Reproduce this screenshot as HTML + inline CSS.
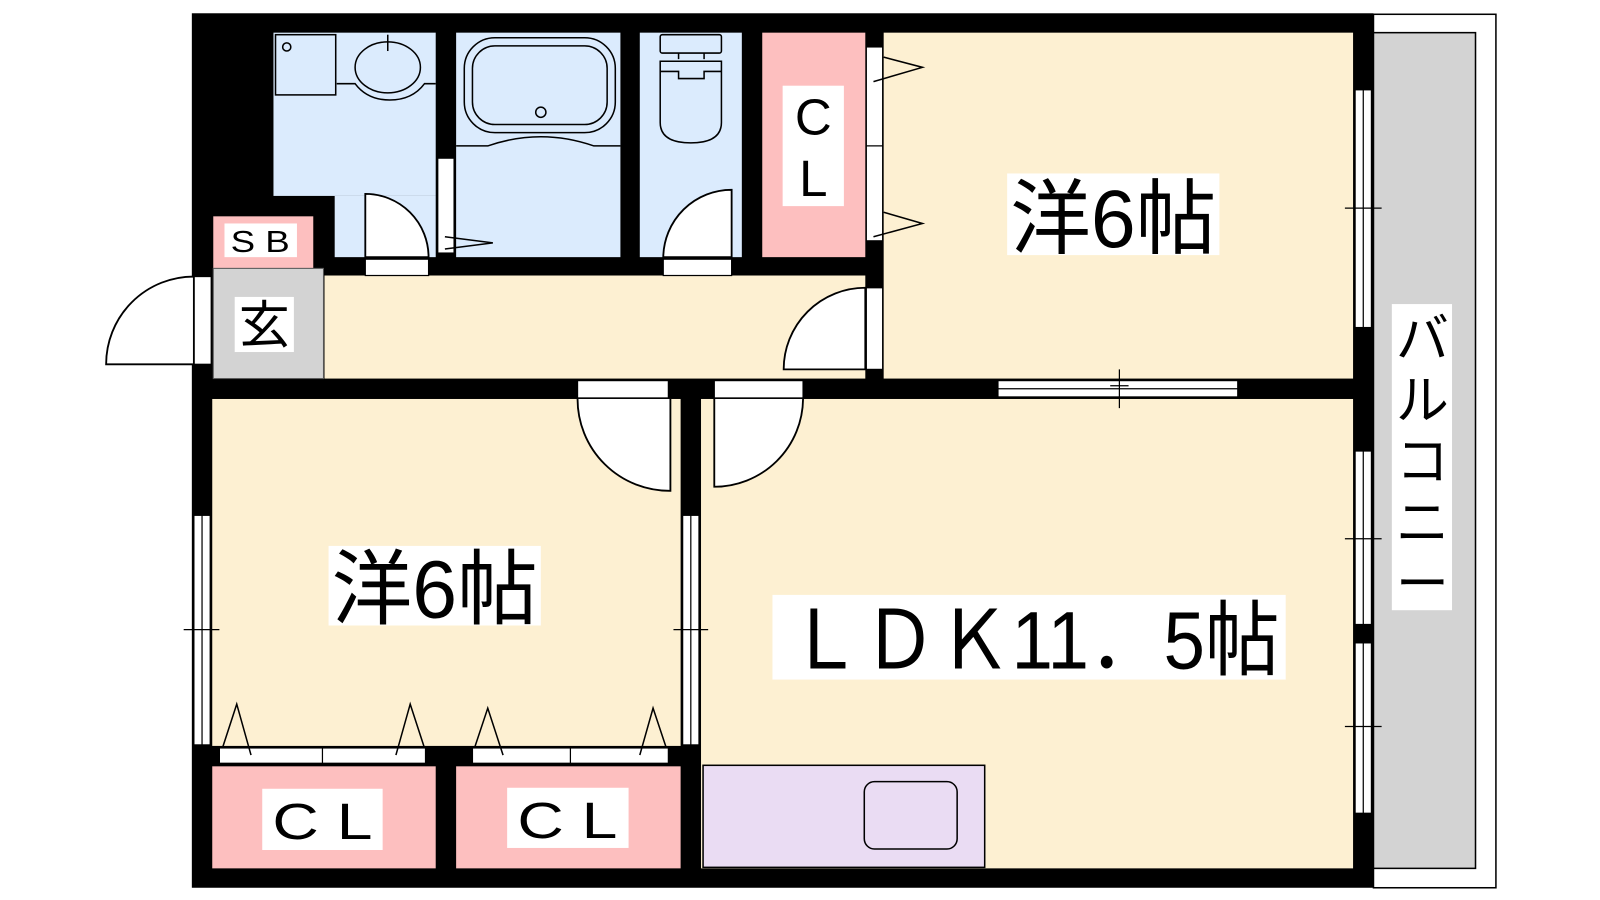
<!DOCTYPE html>
<html><head><meta charset="utf-8"><style>
html,body{margin:0;padding:0;background:#fff;width:1600px;height:900px;overflow:hidden}
svg{display:block}
text{font-family:"Liberation Sans","Noto Sans CJK JP",sans-serif;fill:#000}
</style></head><body>
<svg width="1600" height="900" viewBox="0 0 1568 882" preserveAspectRatio="none" xmlns="http://www.w3.org/2000/svg">
<!-- balcony -->
<rect x="1346" y="14" width="120" height="856" fill="#fff" stroke="#000" stroke-width="1.5"/>
<rect x="1346" y="32" width="100" height="819" fill="#d3d3d3" stroke="#000" stroke-width="1.5"/>
<!-- outer black -->
<rect x="188" y="13" width="1158" height="857" fill="#000"/>
<!-- rooms -->
<rect x="268" y="32" width="159" height="160" fill="#dbebfd"/>
<rect x="328" y="192" width="99" height="60" fill="#dbebfd"/>
<rect x="447" y="32" width="161" height="220" fill="#dbebfd"/>
<rect x="627" y="32" width="100" height="220" fill="#dbebfd"/>
<rect x="747" y="32" width="101" height="220" fill="#fdbfbf"/>
<rect x="866" y="32" width="460" height="339" fill="#fdf0d2"/>
<rect x="209" y="212" width="98" height="51" fill="#fdbfbf"/>
<rect x="209" y="263" width="108" height="108" fill="#d3d3d3" stroke="#555" stroke-width="1"/>
<rect x="318" y="270" width="530" height="101" fill="#fdf0d2"/>
<rect x="208" y="391" width="459" height="340" fill="#fdf0d2"/>
<rect x="687" y="391" width="639" height="460" fill="#fdf0d2"/>
<rect x="208" y="751" width="219" height="100" fill="#fdbfbf"/>
<rect x="447" y="751" width="220" height="100" fill="#fdbfbf"/>
<rect x="689" y="750" width="276" height="100" fill="#eadcf3" stroke="#000" stroke-width="1.5"/>
<rect x="847" y="766" width="91" height="66" rx="10" fill="none" stroke="#000" stroke-width="1.5"/>
<!-- fixtures -->
<g fill="none" stroke="#000" stroke-width="1.5">
<rect x="270" y="34" width="59" height="59"/>
<circle cx="281" cy="46" r="4"/>
<path d="M330 82 H348 Q360 98 382 98 Q404 98 416 82 H427"/>
<ellipse cx="380" cy="66" rx="32" ry="25"/>
<path d="M380 34 V50"/>
<rect x="455" y="37" width="148" height="93" rx="30"/>
<rect x="463" y="45" width="132" height="77" rx="22"/>
<circle cx="530" cy="110" r="5"/>
<path d="M447 143 H478 Q530 125 582 143 H608"/>
<rect x="647" y="34" width="60" height="18" rx="2"/>
<path d="M665 52 V58 M690 52 V58"/>
<path d="M647 60 H707 V120 Q707 140 677 140 Q647 140 647 120 Z"/>
<path d="M647 70 H665 V77 H690 V70 H707"/>
</g>
<!-- door openings (white) -->
<g fill="#fff" stroke="#000" stroke-width="1.2">
<rect x="358" y="254" width="62" height="16"/>
<rect x="650" y="254" width="67" height="16"/>
<rect x="429" y="155" width="16" height="93"/>
<rect x="849" y="46" width="16" height="190"/>
<rect x="849" y="282" width="16" height="80"/>
<rect x="190" y="271" width="17" height="86"/>
<rect x="566" y="373" width="89" height="17"/>
<rect x="700" y="373" width="87" height="17"/>
<rect x="215" y="733" width="202" height="15"/>
<rect x="463" y="733" width="192" height="15"/>
<rect x="978" y="373" width="235" height="16"/>
<rect x="190" y="505" width="16" height="225"/>
<rect x="669" y="505" width="16" height="225"/>
<rect x="1328" y="88" width="16" height="233"/>
<rect x="1328" y="442" width="16" height="170"/>
<rect x="1328" y="630" width="16" height="167"/>
</g>
<g fill="none" stroke="#000" stroke-width="1.2">
<path d="M316 733 V748 M559 733 V748 M849 143 H865"/>
<path d="M978 381 H1213 M198 505 V730 M677 505 V730 M1336 88 V321 M1336 442 V612 M1336 630 V797"/>
<path d="M1097 362 V400 M1088 378 H1106 M180 617 H215 M660 617 H694 M1318 204 H1354 M1318 528 H1354 M1318 712 H1354"/>
</g>
<!-- door leaves and arcs -->
<g fill="#fff" stroke="#000" stroke-width="1.8">
<path d="M358 252 V190 A62 62 0 0 1 420 252 Z"/>
<path d="M717 252 V186 A67 67 0 0 0 650 252 Z"/>
<path d="M848 282 A80 80 0 0 0 768 362 H848 Z"/>
<path d="M190 271 A86 86 0 0 0 104 357 H190 Z"/>
<path d="M657 391 V481 A90 90 0 0 1 566 391"/>
<path d="M700 391 V477 A87 87 0 0 0 787 391"/>
</g>
<g fill="none" stroke="#000" stroke-width="1.5">
<path d="M436 244 L483 238 L436 232"/>
<path d="M856 80 L904 66 L866 56 M856 232 L904 219 L866 208"/>
<path d="M218 733 L232 690 L246 740 M388 740 L402 690 L416 733"/>
<path d="M465 733 L478 694 L493 740 M627 740 L640 694 L653 733"/>
</g>
<!-- labels -->
<rect x="987" y="170" width="208" height="80" fill="#fff"/>
<text x="990" y="242" font-size="80" textLength="202" lengthAdjust="spacingAndGlyphs">洋6帖</text>
<rect x="322" y="535" width="208" height="78" fill="#fff"/>
<text x="325" y="605" font-size="80" textLength="202" lengthAdjust="spacingAndGlyphs">洋6帖</text>
<rect x="757" y="583" width="503" height="83" fill="#fff"/>
<text x="772" y="655" font-size="80" textLength="482" lengthAdjust="spacingAndGlyphs">ＬＤＫ11．5帖</text>
<rect x="767" y="84" width="60" height="118" fill="#fff"/>
<text x="797" y="132" font-size="50" text-anchor="middle">C</text>
<text x="797" y="192" font-size="50" text-anchor="middle">L</text>
<rect x="220" y="219" width="71" height="33" fill="#fff"/>
<text x="255" y="247" font-size="30" text-anchor="middle" textLength="58" lengthAdjust="spacingAndGlyphs">S B</text>
<rect x="230" y="291" width="58" height="54" fill="#fff"/>
<text x="259" y="336" font-size="50" text-anchor="middle">玄</text>
<rect x="1364" y="298" width="59" height="300" fill="#fff"/>
<g font-size="52" text-anchor="middle">
<text x="1394" y="350">バ</text>
<text x="1394" y="410">ル</text>
<text x="1394" y="470">コ</text>
<text x="1394" y="530">ニ</text>
<text x="1394" y="590">ー</text>
</g>
<rect x="257" y="773" width="118" height="60" fill="#fff"/>
<text x="316" y="822" font-size="50" text-anchor="middle" textLength="98" lengthAdjust="spacingAndGlyphs">C L</text>
<rect x="497" y="772" width="119" height="59" fill="#fff"/>
<text x="556" y="821" font-size="50" text-anchor="middle" textLength="98" lengthAdjust="spacingAndGlyphs">C L</text>
</svg>
</body></html>
